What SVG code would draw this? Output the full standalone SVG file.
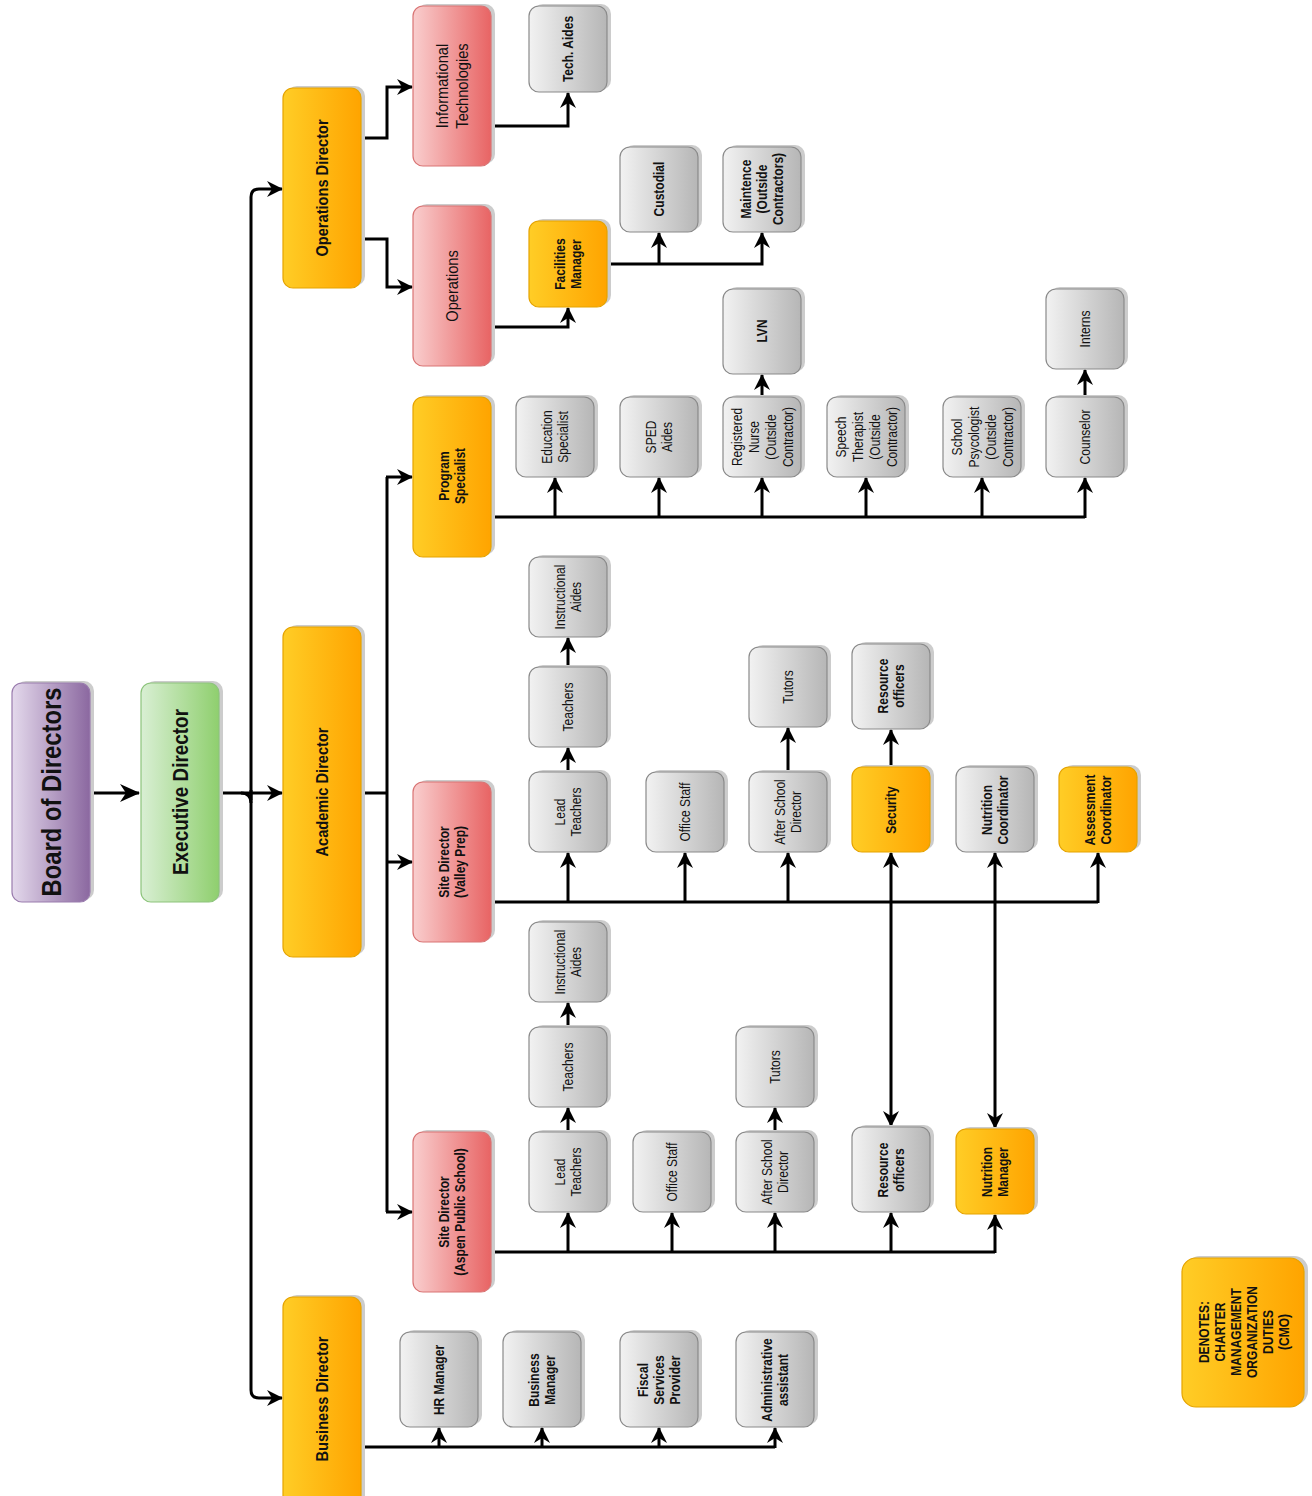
<svg xmlns="http://www.w3.org/2000/svg" width="1312" height="1496" viewBox="0 0 1312 1496">
<defs>
<linearGradient id="gPurple" x1="0" y1="0" x2="1" y2="0"><stop offset="0" stop-color="#e4d9ec"/><stop offset="1" stop-color="#8b68a0"/></linearGradient>
<linearGradient id="gGreen" x1="0" y1="0" x2="1" y2="0"><stop offset="0" stop-color="#d9efd4"/><stop offset="1" stop-color="#8fcf6e"/></linearGradient>
<linearGradient id="gOrange" x1="0" y1="0" x2="1" y2="0"><stop offset="0" stop-color="#ffcd26"/><stop offset="1" stop-color="#ffa400"/></linearGradient>
<linearGradient id="gRed" x1="0" y1="0" x2="1" y2="0"><stop offset="0" stop-color="#f9cece"/><stop offset="1" stop-color="#e86464"/></linearGradient>
<linearGradient id="gGray" x1="0" y1="0" x2="1" y2="0"><stop offset="0" stop-color="#f2f2f2"/><stop offset="1" stop-color="#b6b6b6"/></linearGradient>
<marker id="arr" viewBox="0 0 16 16" refX="15" refY="8" markerWidth="16" markerHeight="16" markerUnits="userSpaceOnUse" orient="auto-start-reverse"><path d="M0,0 L16,8 L0,16 L5,8 z" fill="#000"/></marker>
<marker id="arrL" viewBox="0 0 20 18" refX="19" refY="9" markerWidth="20" markerHeight="18" markerUnits="userSpaceOnUse" orient="auto-start-reverse"><path d="M0,0 L20,9 L0,18 L6,9 z" fill="#000"/></marker>
<style>
.sh{fill:#cccccc}
.n{stroke-width:1.2}
.pu{fill:url(#gPurple);stroke:#9a7cae}
.gr{fill:url(#gGreen);stroke:#8dc47c}
.or{fill:url(#gOrange);stroke:#e5a300}
.rd{fill:url(#gRed);stroke:#d97474}
.gy{fill:url(#gGray);stroke:#8a8a8a}
text{font-family:"Liberation Sans",Arial,sans-serif;text-anchor:middle;fill:#111}
.b{font-weight:bold}
.s14{font-size:14px}
.s13{font-size:14px}
.s17{font-size:17px}
.c{fill:none;stroke:#000;stroke-width:3}
</style>
</defs>

<g id="connectors">
<path class="c" d="M90,793 H139" marker-end="url(#arrL)"/>
<path class="c" d="M219,793 H282" marker-end="url(#arr)"/>
<path class="c" d="M241,793 Q251,793 251,803"/>
<path class="c" d="M251,800 V197 Q251,189 259,189 H282" marker-end="url(#arr)"/>
<path class="c" d="M251,790 V1390 Q251,1398 259,1398 H282" marker-end="url(#arr)"/>
<path class="c" d="M361,138 H387 V87 H412" marker-end="url(#arr)"/>
<path class="c" d="M361,239 H387 V287 H412" marker-end="url(#arr)"/>
<path class="c" d="M491,126 H568 V93" marker-end="url(#arr)"/>
<path class="c" d="M491,327 H568 V308" marker-end="url(#arr)"/>
<path class="c" d="M607,264 H762 V233" marker-end="url(#arr)"/>
<path class="c" d="M659,264 V233" marker-end="url(#arr)"/>
<path class="c" d="M361,793 H387"/>
<path class="c" d="M387,477 V1212"/>
<path class="c" d="M386,477 H412" marker-end="url(#arr)"/>
<path class="c" d="M386,862 H412" marker-end="url(#arr)"/>
<path class="c" d="M386,1212 H412" marker-end="url(#arr)"/>
<path class="c" d="M491,517 H1085"/>
<path class="c" d="M555,518 V478" marker-end="url(#arr)"/>
<path class="c" d="M659,518 V478" marker-end="url(#arr)"/>
<path class="c" d="M762,518 V478" marker-end="url(#arr)"/>
<path class="c" d="M866,518 V478" marker-end="url(#arr)"/>
<path class="c" d="M982,518 V478" marker-end="url(#arr)"/>
<path class="c" d="M1085,518 V478" marker-end="url(#arr)"/>
<path class="c" d="M762,397 V375" marker-end="url(#arr)"/>
<path class="c" d="M1085,397 V370" marker-end="url(#arr)"/>
<path class="c" d="M491,902 H1098"/>
<path class="c" d="M568,903 V853" marker-end="url(#arr)"/>
<path class="c" d="M685,903 V853" marker-end="url(#arr)"/>
<path class="c" d="M788,903 V853" marker-end="url(#arr)"/>
<path class="c" d="M1098,903 V853" marker-end="url(#arr)"/>
<path class="c" d="M891,853 V1126" marker-start="url(#arr)" marker-end="url(#arr)"/>
<path class="c" d="M995,853 V1128" marker-start="url(#arr)" marker-end="url(#arr)"/>
<path class="c" d="M568,772 V748" marker-end="url(#arr)"/>
<path class="c" d="M568,667 V638" marker-end="url(#arr)"/>
<path class="c" d="M788,772 V728" marker-end="url(#arr)"/>
<path class="c" d="M891,767 V730" marker-end="url(#arr)"/>
<path class="c" d="M491,1252 H995"/>
<path class="c" d="M568,1253 V1213" marker-end="url(#arr)"/>
<path class="c" d="M672,1253 V1213" marker-end="url(#arr)"/>
<path class="c" d="M775,1253 V1213" marker-end="url(#arr)"/>
<path class="c" d="M891,1253 V1213" marker-end="url(#arr)"/>
<path class="c" d="M995,1253 V1215" marker-end="url(#arr)"/>
<path class="c" d="M568,1132 V1108" marker-end="url(#arr)"/>
<path class="c" d="M568,1027 V1003" marker-end="url(#arr)"/>
<path class="c" d="M775,1132 V1108" marker-end="url(#arr)"/>
<path class="c" d="M361,1447 H775"/>
<path class="c" d="M439,1448 V1428" marker-end="url(#arr)"/>
<path class="c" d="M542,1448 V1428" marker-end="url(#arr)"/>
<path class="c" d="M659,1448 V1428" marker-end="url(#arr)"/>
<path class="c" d="M775,1448 V1428" marker-end="url(#arr)"/>
</g>

<g id="board"><rect class="sh" x="16" y="681" width="78" height="219" rx="10"/><rect class="n pu" x="12" y="683" width="78" height="219" rx="10"/>
<text class="b" font-size="28" transform="translate(51,792) rotate(-90) scale(0.85,1)"><tspan x="0" y="10">Board of Directors</tspan></text></g>

<g id="exec"><rect class="sh" x="145" y="681" width="78" height="219" rx="10"/><rect class="n gr" x="141" y="683" width="78" height="219" rx="10"/>
<text class="b" font-size="22" transform="translate(180,792) rotate(-90) scale(0.86,1)"><tspan x="0" y="8">Executive Director</tspan></text></g>

<g id="opsdir"><rect class="sh" x="287" y="86" width="78" height="200" rx="10"/><rect class="n or" x="283" y="88" width="78" height="200" rx="10"/>
<text class="b s17" transform="translate(322,188) rotate(-90) scale(0.86,1)"><tspan x="0" y="6">Operations Director</tspan></text></g>

<g id="acaddir"><rect class="sh" x="287" y="625" width="78" height="330" rx="10"/><rect class="n or" x="283" y="627" width="78" height="330" rx="10"/>
<text class="b s17" transform="translate(322,792) rotate(-90) scale(0.86,1)"><tspan x="0" y="6">Academic Director</tspan></text></g>

<g id="busdir"><rect class="sh" x="287" y="1295" width="78" height="215" rx="10"/><rect class="n or" x="283" y="1297" width="78" height="215" rx="10"/>
<text class="b s17" transform="translate(322,1399) rotate(-90) scale(0.86,1)"><tspan x="0" y="6">Business Director</tspan></text></g>

<g id="it"><rect class="sh" x="417" y="4" width="78" height="160" rx="10"/><rect class="n rd" x="413" y="6" width="78" height="160" rx="10"/>
<text class="s17" transform="translate(452,86) rotate(-90) scale(0.86,1)"><tspan x="0" y="-4">Informational</tspan><tspan x="0" y="16">Technologies</tspan></text></g>

<g id="operations"><rect class="sh" x="417" y="204" width="78" height="160" rx="10"/><rect class="n rd" x="413" y="206" width="78" height="160" rx="10"/>
<text class="s17" transform="translate(452,286) rotate(-90) scale(0.86,1)"><tspan x="0" y="6">Operations</tspan></text></g>

<g id="progspec"><rect class="sh" x="417" y="395" width="78" height="160" rx="10"/><rect class="n or" x="413" y="397" width="78" height="160" rx="10"/>
<text class="b s14" transform="translate(452,476) rotate(-90) scale(0.86,1)"><tspan x="0" y="-3">Program</tspan><tspan x="0" y="13">Specialist</tspan></text></g>

<g id="sitevp"><rect class="sh" x="417" y="780" width="78" height="160" rx="10"/><rect class="n rd" x="413" y="782" width="78" height="160" rx="10"/>
<text class="b s14" transform="translate(452,862) rotate(-90) scale(0.86,1)"><tspan x="0" y="-3">Site Director</tspan><tspan x="0" y="13">(Valley Prep)</tspan></text></g>

<g id="siteaspen"><rect class="sh" x="417" y="1130" width="78" height="160" rx="10"/><rect class="n rd" x="413" y="1132" width="78" height="160" rx="10"/>
<text class="b s14" transform="translate(452,1212) rotate(-90) scale(0.86,1)"><tspan x="0" y="-3">Site Director</tspan><tspan x="0" y="13">(Aspen Public School)</tspan></text></g>

<g id="techaides"><rect class="sh" x="533" y="4" width="78" height="86" rx="10"/><rect class="n gy" x="529" y="6" width="78" height="86" rx="10"/>
<text class="b s14" transform="translate(568,49) rotate(-90) scale(0.86,1)"><tspan x="0" y="5">Tech. Aides</tspan></text></g>

<g id="facilities"><rect class="sh" x="533" y="219" width="78" height="86" rx="10"/><rect class="n or" x="529" y="221" width="78" height="86" rx="10"/>
<text class="b s14" transform="translate(568,264) rotate(-90) scale(0.86,1)"><tspan x="0" y="-3">Facilities</tspan><tspan x="0" y="13">Manager</tspan></text></g>

<g id="custodial"><rect class="sh" x="624" y="145" width="78" height="85" rx="10"/><rect class="n gy" x="620" y="147" width="78" height="85" rx="10"/>
<text class="b s14" transform="translate(659,189) rotate(-90) scale(0.86,1)"><tspan x="0" y="5">Custodial</tspan></text></g>

<g id="maintence"><rect class="sh" x="727" y="145" width="78" height="85" rx="10"/><rect class="n gy" x="723" y="147" width="78" height="85" rx="10"/>
<text class="b s14" transform="translate(762,189) rotate(-90) scale(0.86,1)"><tspan x="0" y="-11">Maintence</tspan><tspan x="0" y="5">(Outside</tspan><tspan x="0" y="21">Contractors)</tspan></text></g>

<g id="lvn"><rect class="sh" x="727" y="287" width="78" height="85" rx="10"/><rect class="n gy" x="723" y="289" width="78" height="85" rx="10"/>
<text class="b s14" transform="translate(762,331) rotate(-90) scale(0.86,1)"><tspan x="0" y="5">LVN</tspan></text></g>

<g id="eduspec"><rect class="sh" x="520" y="395" width="78" height="80" rx="10"/><rect class="n gy" x="516" y="397" width="78" height="80" rx="10"/>
<text class="s14" transform="translate(555,437) rotate(-90) scale(0.86,1)"><tspan x="0" y="-3">Education</tspan><tspan x="0" y="13">Specialist</tspan></text></g>

<g id="sped"><rect class="sh" x="624" y="395" width="78" height="80" rx="10"/><rect class="n gy" x="620" y="397" width="78" height="80" rx="10"/>
<text class="s14" transform="translate(659,437) rotate(-90) scale(0.86,1)"><tspan x="0" y="-3">SPED</tspan><tspan x="0" y="13">Aides</tspan></text></g>

<g id="nurse"><rect class="sh" x="727" y="395" width="78" height="80" rx="10"/><rect class="n gy" x="723" y="397" width="78" height="80" rx="10"/>
<text class="s14" transform="translate(762,437) rotate(-90) scale(0.86,1)"><tspan x="0" y="-20">Registered</tspan><tspan x="0" y="-3">Nurse</tspan><tspan x="0" y="14">(Outside</tspan><tspan x="0" y="31">Contractor)</tspan></text></g>

<g id="speech"><rect class="sh" x="831" y="395" width="78" height="80" rx="10"/><rect class="n gy" x="827" y="397" width="78" height="80" rx="10"/>
<text class="s14" transform="translate(866,437) rotate(-90) scale(0.86,1)"><tspan x="0" y="-20">Speech</tspan><tspan x="0" y="-3">Therapist</tspan><tspan x="0" y="14">(Outside</tspan><tspan x="0" y="31">Contractor)</tspan></text></g>

<g id="psych"><rect class="sh" x="947" y="395" width="78" height="80" rx="10"/><rect class="n gy" x="943" y="397" width="78" height="80" rx="10"/>
<text class="s14" transform="translate(982,437) rotate(-90) scale(0.86,1)"><tspan x="0" y="-20">School</tspan><tspan x="0" y="-3">Psycologist</tspan><tspan x="0" y="14">(Outside</tspan><tspan x="0" y="31">Contractor)</tspan></text></g>

<g id="counselor"><rect class="sh" x="1050" y="395" width="78" height="80" rx="10"/><rect class="n gy" x="1046" y="397" width="78" height="80" rx="10"/>
<text class="s14" transform="translate(1085,437) rotate(-90) scale(0.86,1)"><tspan x="0" y="5">Counselor</tspan></text></g>

<g id="interns"><rect class="sh" x="1050" y="287" width="78" height="80" rx="10"/><rect class="n gy" x="1046" y="289" width="78" height="80" rx="10"/>
<text class="s14" transform="translate(1085,329) rotate(-90) scale(0.86,1)"><tspan x="0" y="5">Interns</tspan></text></g>

<g id="vp-instr"><rect class="sh" x="533" y="555" width="78" height="80" rx="10"/><rect class="n gy" x="529" y="557" width="78" height="80" rx="10"/>
<text class="s14" transform="translate(568,597) rotate(-90) scale(0.86,1)"><tspan x="0" y="-3">Instructional</tspan><tspan x="0" y="13">Aides</tspan></text></g>

<g id="vp-teachers"><rect class="sh" x="533" y="665" width="78" height="80" rx="10"/><rect class="n gy" x="529" y="667" width="78" height="80" rx="10"/>
<text class="s14" transform="translate(568,707) rotate(-90) scale(0.86,1)"><tspan x="0" y="5">Teachers</tspan></text></g>

<g id="vp-lead"><rect class="sh" x="533" y="770" width="78" height="80" rx="10"/><rect class="n gy" x="529" y="772" width="78" height="80" rx="10"/>
<text class="s14" transform="translate(568,812) rotate(-90) scale(0.86,1)"><tspan x="0" y="-3">Lead</tspan><tspan x="0" y="13">Teachers</tspan></text></g>

<g id="vp-office"><rect class="sh" x="650" y="770" width="78" height="80" rx="10"/><rect class="n gy" x="646" y="772" width="78" height="80" rx="10"/>
<text class="s14" transform="translate(685,812) rotate(-90) scale(0.86,1)"><tspan x="0" y="5">Office Staff</tspan></text></g>

<g id="vp-after"><rect class="sh" x="753" y="770" width="78" height="80" rx="10"/><rect class="n gy" x="749" y="772" width="78" height="80" rx="10"/>
<text class="s14" transform="translate(788,812) rotate(-90) scale(0.86,1)"><tspan x="0" y="-3">After School</tspan><tspan x="0" y="13">Director</tspan></text></g>

<g id="vp-tutors"><rect class="sh" x="753" y="645" width="78" height="80" rx="10"/><rect class="n gy" x="749" y="647" width="78" height="80" rx="10"/>
<text class="s14" transform="translate(788,687) rotate(-90) scale(0.86,1)"><tspan x="0" y="5">Tutors</tspan></text></g>

<g id="vp-security"><rect class="sh" x="856" y="765" width="78" height="85" rx="10"/><rect class="n or" x="852" y="767" width="78" height="85" rx="10"/>
<text class="b s14" transform="translate(891,810) rotate(-90) scale(0.86,1)"><tspan x="0" y="5">Security</tspan></text></g>

<g id="vp-resource"><rect class="sh" x="856" y="642" width="78" height="85" rx="10"/><rect class="n gy" x="852" y="644" width="78" height="85" rx="10"/>
<text class="b s14" transform="translate(891,686) rotate(-90) scale(0.86,1)"><tspan x="0" y="-3">Resource</tspan><tspan x="0" y="13">officers</tspan></text></g>

<g id="vp-nutrition"><rect class="sh" x="960" y="765" width="78" height="85" rx="10"/><rect class="n gy" x="956" y="767" width="78" height="85" rx="10"/>
<text class="b s14" transform="translate(995,810) rotate(-90) scale(0.86,1)"><tspan x="0" y="-3">Nutrition</tspan><tspan x="0" y="13">Coordinator</tspan></text></g>

<g id="vp-assessment"><rect class="sh" x="1063" y="765" width="78" height="85" rx="10"/><rect class="n or" x="1059" y="767" width="78" height="85" rx="10"/>
<text class="b s14" transform="translate(1098,810) rotate(-90) scale(0.86,1)"><tspan x="0" y="-3">Assessment</tspan><tspan x="0" y="13">Coordinator</tspan></text></g>

<g id="ap-instr"><rect class="sh" x="533" y="920" width="78" height="80" rx="10"/><rect class="n gy" x="529" y="922" width="78" height="80" rx="10"/>
<text class="s14" transform="translate(568,962) rotate(-90) scale(0.86,1)"><tspan x="0" y="-3">Instructional</tspan><tspan x="0" y="13">Aides</tspan></text></g>

<g id="ap-teachers"><rect class="sh" x="533" y="1025" width="78" height="80" rx="10"/><rect class="n gy" x="529" y="1027" width="78" height="80" rx="10"/>
<text class="s14" transform="translate(568,1067) rotate(-90) scale(0.86,1)"><tspan x="0" y="5">Teachers</tspan></text></g>

<g id="ap-lead"><rect class="sh" x="533" y="1130" width="78" height="80" rx="10"/><rect class="n gy" x="529" y="1132" width="78" height="80" rx="10"/>
<text class="s14" transform="translate(568,1172) rotate(-90) scale(0.86,1)"><tspan x="0" y="-3">Lead</tspan><tspan x="0" y="13">Teachers</tspan></text></g>

<g id="ap-office"><rect class="sh" x="637" y="1130" width="78" height="80" rx="10"/><rect class="n gy" x="633" y="1132" width="78" height="80" rx="10"/>
<text class="s14" transform="translate(672,1172) rotate(-90) scale(0.86,1)"><tspan x="0" y="5">Office Staff</tspan></text></g>

<g id="ap-after"><rect class="sh" x="740" y="1130" width="78" height="80" rx="10"/><rect class="n gy" x="736" y="1132" width="78" height="80" rx="10"/>
<text class="s14" transform="translate(775,1172) rotate(-90) scale(0.86,1)"><tspan x="0" y="-3">After School</tspan><tspan x="0" y="13">Director</tspan></text></g>

<g id="ap-tutors"><rect class="sh" x="740" y="1025" width="78" height="80" rx="10"/><rect class="n gy" x="736" y="1027" width="78" height="80" rx="10"/>
<text class="s14" transform="translate(775,1067) rotate(-90) scale(0.86,1)"><tspan x="0" y="5">Tutors</tspan></text></g>

<g id="ap-resource"><rect class="sh" x="856" y="1125" width="78" height="85" rx="10"/><rect class="n gy" x="852" y="1127" width="78" height="85" rx="10"/>
<text class="b s14" transform="translate(891,1170) rotate(-90) scale(0.86,1)"><tspan x="0" y="-3">Resource</tspan><tspan x="0" y="13">officers</tspan></text></g>

<g id="ap-nutrition"><rect class="sh" x="960" y="1127" width="78" height="85" rx="10"/><rect class="n or" x="956" y="1129" width="78" height="85" rx="10"/>
<text class="b s14" transform="translate(995,1172) rotate(-90) scale(0.86,1)"><tspan x="0" y="-3">Nutrition</tspan><tspan x="0" y="13">Manager</tspan></text></g>

<g id="hr"><rect class="sh" x="404" y="1330" width="78" height="95" rx="10"/><rect class="n gy" x="400" y="1332" width="78" height="95" rx="10"/>
<text class="b s14" transform="translate(439,1380) rotate(-90) scale(0.86,1)"><tspan x="0" y="5">HR Manager</tspan></text></g>

<g id="busmgr"><rect class="sh" x="507" y="1330" width="78" height="95" rx="10"/><rect class="n gy" x="503" y="1332" width="78" height="95" rx="10"/>
<text class="b s14" transform="translate(542,1380) rotate(-90) scale(0.86,1)"><tspan x="0" y="-3">Business</tspan><tspan x="0" y="13">Manager</tspan></text></g>

<g id="fiscal"><rect class="sh" x="624" y="1330" width="78" height="95" rx="10"/><rect class="n gy" x="620" y="1332" width="78" height="95" rx="10"/>
<text class="b s14" transform="translate(659,1380) rotate(-90) scale(0.86,1)"><tspan x="0" y="-11">Fiscal</tspan><tspan x="0" y="5">Services</tspan><tspan x="0" y="21">Provider</tspan></text></g>

<g id="admin"><rect class="sh" x="740" y="1330" width="78" height="95" rx="10"/><rect class="n gy" x="736" y="1332" width="78" height="95" rx="10"/>
<text class="b s14" transform="translate(775,1380) rotate(-90) scale(0.86,1)"><tspan x="0" y="-3">Administrative</tspan><tspan x="0" y="13">assistant</tspan></text></g>

<g id="legend"><rect class="sh" x="1186" y="1256" width="122" height="149" rx="14"/><rect class="n or" x="1182" y="1258" width="122" height="149" rx="14"/>
<text class="b s13" transform="translate(1244,1332) rotate(-90) scale(0.86,1)"><tspan x="0" y="-35">DENOTES:</tspan><tspan x="0" y="-19">CHARTER</tspan><tspan x="0" y="-3">MANAGEMENT</tspan><tspan x="0" y="13">ORGANIZATION</tspan><tspan x="0" y="29">DUTIES</tspan><tspan x="0" y="45">(CMO)</tspan></text></g>
</svg>
